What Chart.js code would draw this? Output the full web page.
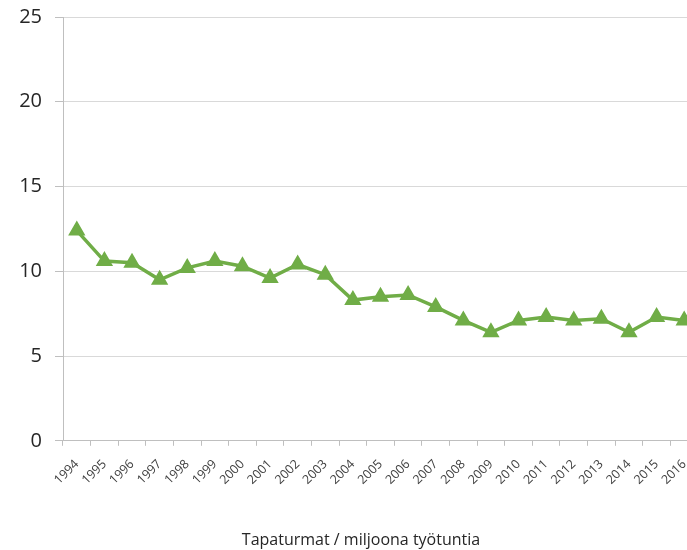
<!DOCTYPE html>
<html>
<head>
<meta charset="utf-8">
<script src="https://cdn.jsdelivr.net/npm/chart.js@4/dist/chart.umd.min.js"></script>
<style>
  html, body { margin: 0; padding: 0; background: #fff; overflow: hidden; }
  #wrap { width: 722px; height: 550px; }
</style>
</head>
<body>
<div id="wrap"><canvas id="Tapaturmat" width="722" height="550"></canvas></div>
<script>
var years = [
  "1994", "1995", "1996", "1997", "1998", "1999", "2000", "2001",
  "2002", "2003", "2004", "2005", "2006", "2007", "2008", "2009",
  "2010", "2011", "2012", "2013", "2014", "2015", "2016",
];
var accidents = [
  12.4, 10.6, 10.5, 9.5, 10.2, 10.6, 10.3, 9.6,
  10.4, 9.8, 8.3, 8.5, 8.6, 7.9, 7.1, 6.4,
  7.1, 7.3, 7.1, 7.2, 6.4, 7.3, 7.1,
];
var yTicks = [0, 5, 10, 15, 20, 25];
var seriesName = "Tapaturmat / miljoona työtuntia";

var green = "#70ad47";

var ctx = document.getElementById("Tapaturmat").getContext("2d");
var myChart = new Chart(ctx, {
  type: "line",
  data: {
    labels: years,
    datasets: [
      {
        label: seriesName,
        data: accidents,
        fill: false,
        borderColor: green,
        backgroundColor: green,
        borderWidth: 3.5,
        tension: 0,
        pointStyle: "triangle",
        pointRadius: 8,
        pointBorderWidth: 2,
        pointBorderColor: green,
        pointBackgroundColor: green,
      },
    ],
  },
  options: {
    responsive: false,
    animation: false,
    layout: {
      padding: { left: 0, right: 0, top: 17, bottom: 0 },
    },
    scales: {
      x: {
        offset: true,
        grid: {
          offset: true,
          drawOnChartArea: false,
          drawTicks: true,
          tickLength: 5,
          color: "#bfbfbf",
        },
        border: { color: "#bfbfbf" },
        ticks: {
          autoSkip: false,
          minRotation: 45,
          maxRotation: 45,
          padding: 11,
          color: "#404040",
          font: { family: "Open Sans", size: 12.5 },
        },
        afterFit: function (scale) {
          scale.height = 80;
        },
      },
      y: {
        min: 0,
        max: 25,
        afterBuildTicks: function (scale) {
          scale.ticks = yTicks.map(function (v) { return { value: v }; });
        },
        grid: {
          color: "#d9d9d9",
          tickLength: 8,
          tickColor: "#bfbfbf",
        },
        border: { color: "#bfbfbf" },
        ticks: {
          padding: 13,
          color: "#262626",
          font: { family: "Open Sans", size: 20 },
        },
        afterFit: function (scale) {
          scale.width = 63;
          scale.paddingTop = 0;
        },
      },
      // empty strip on the right, the plot runs past the window edge
      yRight: {
        position: "right",
        display: true,
        grid: { display: false },
        border: { display: false },
        ticks: { display: false },
        afterFit: function (scale) {
          scale.width = 24;
        },
      },
    },
    plugins: {
      legend: { display: false },
      tooltip: { enabled: false },
      title: {
        display: true,
        text: seriesName,
        position: "bottom",
        color: "#262626",
        font: { family: "Open Sans", size: 16, weight: "normal" },
        padding: { top: 10, bottom: 0 },
      },
    },
  },
});
</script>
</body>
</html>
